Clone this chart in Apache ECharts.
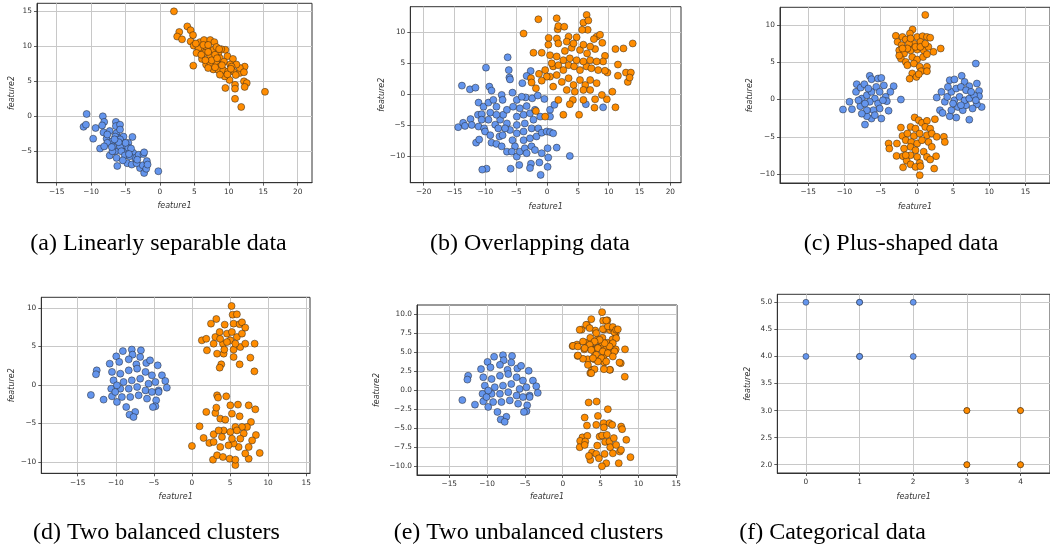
<!DOCTYPE html>
<html><head><meta charset="utf-8">
<script src="https://cdn.jsdelivr.net/npm/echarts@6/dist/echarts.min.js"></script>
<style>html,body{margin:0;padding:0;background:#fff}#c{width:1050px;height:546px}</style>
</head><body><div id="c"></div>
<script>
// ---------- data ----------
const aOrange = [[2.03,15.0],[3.97,12.85],[4.45,12.3],[2.8,12.05],[2.5,11.4],[3.2,11.0],[4.8,11.6],[4.45,10.7],[4.9,10.1],[5.8,10.6],[6.4,10.9],[7.3,10.9],[7.9,10.6],[4.84,7.24],[6.05,9.5],[6.8,9.8],[7.75,9.5],[8.5,9.05],[9.5,9.5],[9.8,8.6],[6.1,8.2],[6.7,7.4],[7.65,8.1],[8.2,7.6],[8.7,7.1],[7.75,6.7],[8.95,6.2],[9.7,5.7],[10.6,8.2],[10.65,6.4],[11.6,6.2],[12.3,7.1],[11.6,6.9],[12.2,6.3],[12.2,5.0],[12.6,4.75],[12.3,4.2],[10.9,4.5],[10.9,3.95],[9.5,4.05],[15.25,3.5],[10.9,2.5],[11.8,1.33],[10.1,5.2],[6.5,9.05],[7.3,8.55],[8.0,8.8],[8.7,8.3],[9.3,7.8],[10.2,7.4],[5.6,9.75],[6.3,10.2],[7.0,10.2],[5.3,9.05],[7.3,7.6],[7.0,6.9],[8.5,6.6],[9.2,6.6],[9.9,6.4],[11.1,7.4],[8.2,9.9],[8.9,9.6],[10.4,7.1],[9.4,5.7],[8.7,5.95],[7.5,8.0],[8.3,8.3],[9.0,7.3],[6.0,8.8],[7.0,9.2],[8.0,7.0],[9.8,6.0],[11.0,5.9],[10.3,6.8],[6.6,8.0],[8.6,9.6],[5.2,10.4]];
const aBlue = [[-10.65,0.33],[-11.1,-1.5],[-10.75,-1.2],[-9.35,-1.67],[-8.3,0],[-8.1,-0.8],[-8.4,-1.3],[-6.4,-0.8],[-6.4,-1.4],[-5.8,-1.2],[-9.7,-3.2],[-8.7,-4.6],[-8.2,-2.3],[-7.3,-2.1],[-7.75,-3.2],[-7.0,-3.6],[-6.3,-2.4],[-6.05,-3.1],[-7.3,-5.6],[-6.5,-5.0],[-6.2,-7.1],[-6.3,-5.95],[-5.3,-2.9],[-5.2,-4.3],[-4.85,-5.0],[-4.75,-6.7],[-4.1,-6.9],[-4.0,-2.95],[-4.6,-3.8],[-3.9,-5.2],[-3.6,-5.95],[-3.1,-5.5],[-2.4,-5.4],[-2.3,-5.15],[-2.9,-7.4],[-2.5,-7.0],[-2.3,-8.1],[-2.0,-7.5],[-1.9,-6.4],[-1.8,-6.9],[-0.24,-7.85],[-6.8,-4.3],[-5.8,-4.3],[-5.6,-5.0],[-5.1,-5.6],[-4.4,-5.7],[-7.65,-3.8],[-6.5,-2.9],[-5.8,-3.3],[-8.1,-4.3],[-6.9,-5.0],[-4.6,-4.5],[-3.4,-6.7],[-5.8,-1.9],[-7.65,-2.6],[-5.0,-3.8],[-4.2,-4.6],[-6.0,-3.7],[-7.0,-4.4],[-3.3,-6.2],[-5.4,-6.3],[-4.5,-5.4],[-6.6,-3.3]];

const bOrange = [[1.57,12.26],[6.43,12.8],[5.9,11.56],[6.7,11.9],[6.6,10.4],[5.7,10.4],[1.73,10.5],[1.84,11.0],[2.8,10.9],[-1.4,12.1],[-3.8,9.8],[0.27,9.1],[1.6,9.0],[3.5,9.3],[4.8,9.2],[8.05,9.3],[8.6,9.6],[7.6,8.9],[8.97,8.3],[11.1,7.3],[13.9,8.2],[12.4,7.4],[-2.2,6.7],[-0.86,6.7],[0.49,6.3],[0.22,8.0],[1.84,8.2],[2.9,7.0],[4.0,7.5],[5.35,7.15],[6.5,6.6],[7.8,7.3],[9.4,6.2],[9.1,5.3],[9.8,3.5],[11.5,4.8],[11.5,3.0],[12.8,3.5],[13.6,3.5],[13.1,2.0],[13.4,2.7],[10.6,0.43],[9.7,-0.8],[8.9,-0.1],[7.8,-0.8],[5.9,-0.9],[4.2,-0.9],[3.7,-1.6],[5.2,-3.3],[2.65,-3.3],[1.84,-0.9],[7.7,-2.15],[11.1,-2.1],[-1.8,-2.7],[-0.3,-3.6],[-2.6,2.6],[-2.5,1.9],[-1.8,0.97],[-1.3,3.3],[-0.3,3.9],[1.0,4.5],[1.84,4.7],[2.65,3.9],[3.5,4.7],[4.4,4.5],[5.35,3.9],[6.4,4.5],[7.2,4.2],[8.3,3.9],[9.4,3.8],[0.49,2.85],[1.57,3.1],[2.4,2.0],[3.5,2.6],[4.3,1.5],[5.35,2.3],[6.2,1.5],[7.0,2.3],[8.05,1.8],[3.2,0.7],[4.5,0.43],[5.9,0.7],[7.0,0.7],[1.0,1.24],[2.65,5.5],[3.7,5.8],[4.8,5.5],[5.9,5.3],[7.0,5.5],[8.05,5.3],[1.57,6.1],[3.2,8.5],[4.3,8.2],[5.9,8.0],[7.0,7.7],[0.76,5.0],[-0.05,2.85],[-0.86,2.2]];
const bBlue = [[-6.38,5.97],[-9.9,4.3],[-6.2,3.9],[-6.1,2.7],[-6.0,2.4],[-13.8,1.4],[-12.5,0.8],[-11.6,1.07],[-9.35,1.24],[-9.0,0.6],[-7.35,-0.1],[-7.2,-0.9],[-5.6,0.27],[-4.0,1.8],[-2.65,3.76],[-3.3,2.96],[-3.46,-0.5],[-2.4,-0.65],[-1.5,-0.2],[-0.43,-0.75],[0.49,-2.5],[1.2,-1.7],[6.3,-1.6],[9.1,-2.1],[3.7,-9.95],[1.57,-8.6],[0.1,-8.7],[0.2,-10.2],[0.1,-11.7],[-1.03,-13.0],[-1.24,-11.0],[-2.6,-11.2],[-2.76,-11.9],[-4.5,-11.4],[-5.9,-12.0],[-9.8,-12.0],[-10.5,-12.15],[-11.5,-7.8],[-11.0,-7.3],[-14.4,-5.3],[-13.6,-4.6],[-13.3,-5.1],[-12.4,-4.0],[-12.2,-4.95],[-11.2,-3.3],[-11.1,-5.2],[-11.1,-1.34],[-10.3,-2.0],[-10.6,-3.2],[-10.2,-5.5],[-9.2,-2.96],[-9.5,-1.34],[-8.7,-0.9],[-10.05,-6.0],[-9.2,-6.6],[-9.0,-7.8],[-8.2,-8.0],[-7.7,-6.8],[-8.4,-4.9],[-7.6,-4.1],[-7.1,-3.3],[-8.2,-3.3],[-6.5,-2.5],[-6.5,-4.7],[-6.0,-5.75],[-7.2,-6.6],[-7.35,-8.4],[-6.5,-9.25],[-5.6,-7.4],[-5.2,-8.4],[-5.7,-9.25],[-4.9,-10.05],[-4.4,-9.25],[-3.6,-8.7],[-3.3,-9.5],[-2.5,-8.4],[-1.95,-9.0],[-0.86,-9.5],[-3.8,-7.4],[-2.76,-7.1],[-1.7,-6.8],[-4.9,-6.3],[-3.8,-6.0],[-2.5,-5.5],[-1.4,-5.5],[-0.86,-6.2],[-0.05,-6.0],[0.49,-6.1],[1.0,-6.3],[-4.9,-4.95],[-3.6,-4.7],[-2.2,-4.1],[-1.1,-3.6],[0.49,-3.6],[-4.9,-3.6],[-3.8,-3.3],[-2.76,-3.06],[-1.95,-2.5],[-5.5,-2.0],[-4.4,-2.26],[-3.3,-1.9],[-4.9,-0.9],[-4.1,-0.4],[-7.9,-5.5],[-6.8,-5.5],[-8.2,-2.0],[-9.5,-4.1],[-10.6,-4.1]];

const cOrange = [[1.17,11.36],[-0.59,9.4],[-0.95,8.86],[-2.9,8.55],[-2.66,7.74],[-1.98,8.4],[-1.53,8.05],[0.05,8.4],[0.8,8.5],[1.4,8.4],[1.85,8.3],[0.5,7.74],[-0.4,7.5],[-1.08,7.5],[-2.1,7.3],[-2.43,6.6],[-1.76,6.17],[-0.86,6.6],[0.05,6.7],[0.95,6.6],[1.6,7.07],[2.3,6.4],[3.3,6.85],[-2.2,5.5],[-1.53,5.05],[-0.63,5.7],[0.05,5.37],[0.86,5.7],[1.4,6.08],[-1.3,4.6],[-0.4,4.83],[0.4,4.4],[1.4,4.4],[0.6,3.8],[1.4,3.8],[-0.63,3.5],[-0.99,2.8],[-0.05,3.04],[0.27,3.4],[-2.43,5.9],[-0.86,8.2],[-0.18,7.07],[-1.3,6.85],[-1.98,6.85],[0.5,7.07],[1.17,7.5],
  [-0.3,-2.4],[0.27,-2.77],[0.72,-3.13],[1.4,-2.86],[2.5,-2.64],[-0.86,-3.67],[-2.2,-3.76],[-0.18,-3.9],[1.17,-3.67],[1.85,-3.9],[-1.98,-4.88],[-3.9,-5.9],[-3.8,-6.58],[-2.75,-5.9],[-1.3,-4.56],[-0.4,-4.9],[0.4,-4.56],[1.4,-4.79],[2.07,-4.56],[2.75,-5.0],[3.74,-5.0],[3.87,-5.7],[-1.53,-5.46],[-0.77,-5.7],[0.05,-5.9],[0.72,-5.46],[1.62,-5.7],[2.07,-6.35],[-0.86,-6.35],[-1.76,-6.58],[-0.18,-6.8],[0.95,-7.0],[1.4,-7.7],[2.66,-7.6],[-2.8,-7.56],[-1.9,-7.6],[-1.4,-8.2],[-0.86,-7.47],[0.05,-7.7],[0.4,-8.5],[1.85,-8.05],[-0.86,-8.7],[-1.9,-9.1],[-0.18,-9.04],[0.5,-8.95],[2.4,-9.26],[0.4,-10.15],[-1.53,-7.47]];
const cBlue = [[-10.2,-1.34],[-9.3,-0.3],[-8.96,-1.3],[-8.3,2.06],[-8.4,1.03],[-7.75,1.6],[-7.25,2.06],[-6.5,3.18],[-6.26,2.73],[-5.36,2.82],[-4.9,2.9],[-4.55,1.9],[-3.2,1.8],[-3.65,1.03],[-4.3,0.36],[-4.14,-0.22],[-2.2,0],[-3.9,-1.5],[-4.9,-2.55],[-6.26,-2.55],[-7.16,-3.36],[-6.9,-2.24],[-7.8,-0.9],[-7.6,0.13],[-6.9,0.58],[-6.26,1.03],[-5.6,1.7],[-5.13,1.03],[-5.8,0.13],[-6.5,-0.3],[-5.36,-0.54],[-5.13,-1.2],[-6.0,-1.43],[-6.9,-1.43],[-7.6,-1.9],[-5.8,-2.1],[-4.68,-0.1],[-7.16,-0.54],[-8.06,-0.1],[-6.7,1.48],
  [8.15,4.83],[2.75,0.27],[3.4,1.03],[3.2,-1.43],[3.56,-1.8],[3.87,-0.3],[4.2,0.36],[4.55,2.6],[5.2,2.7],[6.2,3.18],[6.6,2.37],[7.25,1.8],[8.3,2.15],[8.6,1.16],[8.6,0.45],[8.96,-1.0],[8.3,-0.63],[7.25,-2.7],[5.45,-2.42],[4.55,-2.24],[4.77,-1.43],[5.67,-1.0],[6.35,-1.43],[6.8,-0.76],[7.7,-1.2],[5.2,-0.1],[5.9,0.36],[6.6,-0.1],[7.25,0.13],[7.9,0.58],[4.77,1.03],[5.45,1.48],[6.1,1.7],[6.8,1.25],[7.5,1.03],[4.3,1.7],[5.0,-0.54],[6.1,-0.76],[8.15,-0.1]];

const dOrange = [[5.2,10.26],[5.34,9.13],[5.9,9.18],[2.5,7.97],[3.2,8.57],[4.3,7.84],[5.47,7.97],[6.26,7.9],[6.57,8.14],[7.0,7.45],[1.3,5.8],[1.88,6.0],[1.97,4.5],[2.85,5.37],[3.07,6.23],[3.64,6.88],[4.07,5.37],[3.3,4.07],[4.16,4.07],[4.25,4.6],[5.47,4.6],[5.47,3.64],[6.35,4.93],[7.0,5.37],[6.26,2.68],[3.85,2.68],[3.64,2.25],[7.67,3.55],[8.23,5.37],[8.2,1.77],[4.6,6.67],[5.25,6.88],[5.9,6.23],[6.57,6.67],[5.04,5.8],[5.7,5.37],[3.7,6.0],[4.6,5.58],
  [0,-7.92],[1.0,-5.37],[1.53,-6.88],[1.88,-3.5],[2.28,-7.53],[2.76,-9.7],[2.85,-6.4],[3.07,-3.64],[3.3,-1.34],[3.43,-1.64],[4.5,-1.47],[3.2,-2.94],[3.72,-4.37],[4.38,-4.5],[5.04,-2.64],[6.04,-2.55],[5.25,-3.72],[6.26,-4.07],[7.45,-2.64],[8.32,-3.16],[7.75,-4.8],[7.23,-5.45],[6.57,-5.45],[5.7,-5.45],[4.16,-5.9],[3.5,-5.9],[5.04,-6.1],[5.9,-5.9],[6.8,-6.3],[8.4,-6.5],[7.9,-7.2],[7.45,-8.05],[7.45,-9.57],[8.9,-8.83],[7.0,-8.9],[6.13,-8.05],[5.47,-7.6],[4.8,-7.84],[3.72,-8.05],[3.3,-9.13],[4.07,-9.35],[4.95,-9.57],[5.7,-10.4],[5.7,-9.7],[2.85,-7.4],[3.94,-6.75],[5.25,-6.97],[6.35,-6.97]];
const dBlue = [[-13.27,-1.3],[-12.5,1.9],[-12.6,1.39],[-11.6,-1.9],[-10.8,2.77],[-9.94,3.72],[-9.07,4.4],[-7.9,4.6],[-6.7,4.5],[-7.8,3.94],[-9.55,3.0],[-8.3,3.33],[-7.3,2.68],[-6.0,2.86],[-5.5,3.2],[-4.5,2.55],[-3.94,1.26],[-3.5,0.52],[-3.3,-0.35],[-4.38,-0.7],[-4.38,-0.9],[-4.7,-1.99],[-4.8,-2.77],[-5.13,-2.86],[-7.45,-3.5],[-8.2,-3.85],[-7.67,-4.16],[-8.63,-2.86],[-9.85,-2.2],[-10.5,-1.47],[-10.6,-0.48],[-10.3,0.6],[-10.5,1.7],[-9.4,1.47],[-8.3,1.9],[-7.2,2.12],[-6.1,1.7],[-5.26,1.26],[-8.98,0.39],[-7.9,0.6],[-6.8,0.82],[-5.7,0.17],[-4.8,0.39],[-9.4,-0.48],[-8.3,-0.48],[-7.2,-0.26],[-6.1,-0.7],[-5.26,-0.9],[-9.2,-1.56],[-8.1,-1.56],[-7.0,-1.34],[-5.9,-1.77],[-10.07,-0.9],[-9.85,-0.04],[-6.8,3.64]];

const eOrange = [[5.2,10.26],[5.34,9.13],[5.9,9.18],[2.5,7.97],[3.2,8.57],[4.3,7.84],[5.47,7.97],[6.26,7.9],[6.57,8.14],[7.0,7.45],[1.3,5.8],[1.88,6.0],[1.97,4.5],[2.85,5.37],[3.07,6.23],[3.64,6.88],[4.07,5.37],[3.3,4.07],[4.16,4.07],[4.25,4.6],[5.47,4.6],[5.47,3.64],[6.35,4.93],[7.0,5.37],[6.26,2.68],[3.85,2.68],[3.64,2.25],[7.67,3.55],[8.23,5.37],[8.2,1.77],[4.6,6.67],[5.25,6.88],[5.9,6.23],[6.57,6.67],[5.04,5.8],[5.7,5.37],[3.7,6.0],[4.6,5.58],
  [1.36,5.83],[2.0,5.75],[2.68,6.4],[2.24,7.94],[3.1,8.6],[3.55,8.16],[4.43,7.5],[5.3,8.03],[5.96,8.4],[6.62,8.3],[6.84,7.6],[7.06,6.84],[6.62,6.18],[6.18,5.75],[5.53,6.18],[4.87,6.62],[4.2,6.4],[3.55,5.96],[2.9,5.53],[3.77,5.3],[4.65,5.53],[5.3,5.1],[5.96,4.87],[6.84,5.1],[4.43,4.65],[5.1,4.2],[5.75,3.77],[4.65,3.77],[3.99,4.2],[6.62,4.43],[7.06,7.94],[3.77,9.34],[5.75,9.17],[7.28,8.0],[7.5,3.64],[6.2,2.68],[5.44,2.76],[4.2,2.76],[3.77,2.24],[3.33,3.33],[2.68,4.12],[2.0,4.56],
  [3.42,-1.62],[4.47,-1.49],[5.96,-2.5],[2.9,-3.6],[4.65,-3.38],[3.2,-4.65],[4.43,-4.56],[5.4,-4.34],[6.18,-4.34],[6.54,-4.56],[7.72,-4.78],[7.85,-5.13],[5.44,-4.9],[2.6,-6.2],[2.3,-6.67],[3.25,-6.0],[2.98,-6.75],[2.24,-7.5],[2.9,-7.2],[4.56,-7.28],[4.87,-6.1],[5.2,-5.96],[5.83,-5.88],[5.6,-6.8],[6.18,-6.75],[6.75,-6.3],[6.27,-7.5],[6.62,-8.3],[3.86,-8.2],[4.43,-8.38],[3.64,-9.17],[4.78,-8.95],[5.53,-8.38],[5.75,-9.6],[5.18,-10.0],[7.4,-9.6],[7.55,-8.07],[7.7,-7.85],[8.4,-6.53],[8.95,-8.8],[3.46,-8.64],[7.06,-7.2]];
const eBlue = dBlue;

const fBlue = [[0,4],[0,5],[1,4],[1,5],[1,4],[1,5],[2,4],[2,5]];
const fOrange = [[3,2],[3,3],[4,2],[4,3],[3,2],[3,3],[4,2],[4,3]];

// tick labels
const ticksA_x = [-15,-10,-5,0,5,10,15,20], ticksA_y = [-5,0,5,10,15];
const ticksB_x = [-20,-15,-10,-5,0,5,10,15,20], ticksB_y = [-10,-5,0,5,10];
const ticksC_x = [-15,-10,-5,0,5,10,15], ticksC_y = [-10,-5,0,5,10];
const ticksD_x = [-15,-10,-5,0,5,10,15], ticksD_y = [-10,-5,0,5,10];
const ticksE_x = [-15,-10,-5,0,5,10,15], ticksE_y = [-10,-7.5,-5,-2.5,0,2.5,5,7.5,10];
const ticksF_x = [0,1,2,3,4], ticksF_y = [2,2.5,3,3.5,4,4.5,5];

const captions = ['(a) Linearly separable data','(b) Overlapping data','(c) Plus-shaped data','(d) Two balanced clusters','(e) Two unbalanced clusters','(f) Categorical data'];

// ---------- layout ----------
const panels = [
  {g:{left:37,top:3.3,width:275,height:179.4}, x:[-17.86,22.08], y:[-9.49,16.15], tx:ticksA_x, ty:ticksA_y, dec:0, xg:19.7, yg:21.3, blue:aBlue, orange:aOrange, ss:7},
  {g:{left:410.3,top:6.7,width:270.7,height:176}, x:[-22.17,21.73], y:[-14.26,14.13], tx:ticksB_x, ty:ticksB_y, dec:0, xg:20, yg:23, blue:bBlue, orange:bOrange, ss:7},
  {g:{left:780,top:7.3,width:276,height:175.7}, x:[-18.9,18.4], y:[-11.2,12.38], tx:ticksC_x, ty:ticksC_y, dec:0, xg:19.7, yg:26, blue:cBlue, orange:cOrange, ss:7},
  {g:{left:41.3,top:297.3,width:268.7,height:176}, x:[-19.78,15.5], y:[-11.47,11.39], tx:ticksD_x, ty:ticksD_y, dec:0, xg:19.4, yg:25.6, blue:dBlue, orange:dOrange, ss:7},
  {g:{left:417,top:305,width:260,height:170}, x:[-19.26,15.1], y:[-11.15,11.2], tx:ticksE_x, ty:ticksE_y, dec:1, xg:17.7, yg:36.3, blue:eBlue, orange:eOrange, ss:7},
  {g:{left:777.3,top:294.3,width:276,height:178.7}, x:[-0.534,4.55], y:[1.847,5.148], tx:ticksF_x, ty:ticksF_y, dec:1, xg:19.7, yg:25, blue:fBlue, orange:fOrange, ss:6}
];
const capPos = [[158.5,244],[530,244],[901,244],[156.5,533],[528.5,533],[832.5,533]];

const FONT = 'DejaVu Sans';
const minus = s => String(s).replace('-', '\u2212');
function axis(ext, ticks, dec, name, gap, idx) {
  return {
    type:'value', gridIndex:idx, min:ext[0], max:ext[1], scale:true,
    name:name, nameLocation:'middle', nameGap:gap,
    nameTextStyle:{fontFamily:FONT, fontStyle:'italic', fontSize:8, color:'#333'},
    axisLine:{show:true, onZero:false, lineStyle:{color:'#333', width:1}},
    axisTick:{show:true, length:3, customValues:ticks, lineStyle:{color:'#333', width:0.8}},
    axisLabel:{customValues:ticks, fontFamily:FONT, fontSize:7.4, color:'#333', margin:name==='feature1'?6:5,
      formatter:v => minus(dec ? Number(v).toFixed(dec) : String(v))},
    splitLine:{show:true, lineStyle:{color:'#c8c8c8', width:1}}
  };
}

const grid=[], xAxis=[], yAxis=[], series=[];
panels.forEach((p,i) => {
  grid.push(Object.assign({show:true, borderColor:'#333', borderWidth:1, backgroundColor:'transparent'}, p.g));
  xAxis.push(axis(p.x, p.tx, 0, 'feature1', p.xg, i));
  yAxis.push(axis(p.y, p.ty, p.dec, 'feature2', p.yg, i));
  [[p.blue,'#6495ED'],[p.orange,'#FF8C00']].forEach(([d,c]) => {
    series.push({type:'scatter', xAxisIndex:i, yAxisIndex:i, data:d, symbolSize:p.ss,
      itemStyle:{color:c, borderColor:'rgba(30,30,30,0.8)', borderWidth:0.6, opacity:1},
      emphasis:{disabled:true}, silent:true});
  });
});

const graphic = captions.map((t,i) => ({type:'text', x:capPos[i][0], y:capPos[i][1],
  style:{text:t, fontFamily:'Liberation Serif', fontSize:24, fill:'#000', align:'center', verticalAlign:'middle'}}));

const chart = echarts.init(document.getElementById('c'), null, {renderer:'canvas'});
chart.setOption({animation:false, backgroundColor:'#fff', grid, xAxis, yAxis, series, graphic});
</script></body></html>
